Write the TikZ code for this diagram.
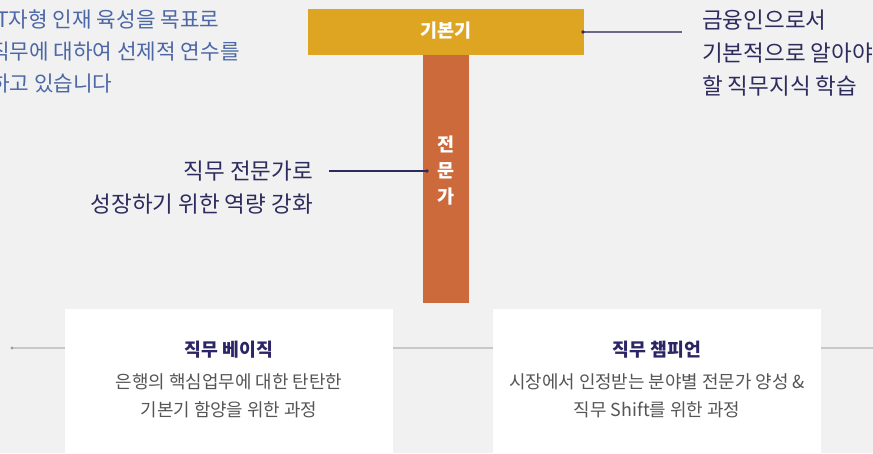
\documentclass[tikz,border=0pt]{standalone}
\usepackage{fontspec}
\setmainfont{Noto Sans CJK KR}
\definecolor{bgc}{HTML}{F1F1F1}
\definecolor{goldc}{HTML}{DEA522}
\definecolor{orangec}{HTML}{CD6A3B}
\definecolor{navyc}{HTML}{2E2C5E}
\definecolor{bluec}{HTML}{4B67A6}
\definecolor{grayc}{HTML}{555555}
\definecolor{linegray}{HTML}{C8C8C8}
\definecolor{titlec}{HTML}{2B2465}
\definecolor{lightnavy}{HTML}{6A6888}
\tikzset{
  bartext/.style={text=white, inner sep=0pt, font=\fontsize{18.5}{26}\bfseries\selectfont},
  sidetext/.style={text=navyc, inner sep=0pt, font=\fontsize{22.5}{33}\selectfont},
  bluetext/.style={text=bluec, inner sep=0pt, font=\fontsize{21.3}{32}\selectfont},
  boxtitle/.style={text=titlec, inner sep=0pt, font=\fontsize{18.3}{20}\bfseries\selectfont},
  boxbody/.style={text=grayc, inner sep=0pt, align=center, font=\fontsize{17.9}{28}\selectfont},
  whitebox/.style={fill=white, draw=none, minimum width=328pt, minimum height=160pt, inner sep=0pt},
  conn/.style={draw=navyc, line width=1.2pt},
  connlight/.style={draw=lightnavy, line width=1.2pt},
  grayline/.style={draw=linegray, line width=1.3pt},
}
\begin{document}
\begin{tikzpicture}[x=1pt,y=-1pt]
\useasboundingbox (0,0) rectangle (873,453);
\fill[bgc] (0,0) rectangle (873,453);
\clip (0,0) rectangle (873,453);

% bottom gray line
\coordinate (bl) at (12,348);
\coordinate (br) at (873,348);
\draw[grayline] (bl) -- (br);
\fill[linegray!80!black] (bl) circle (1.6pt);

% white boxes
\node[whitebox, anchor=north west] (basicbox) at (65,309) {};
\node[whitebox, anchor=north west] (champbox) at (493,309) {};
\node[boxtitle] (basict) at (229,350) {직무 베이직};
\node[boxbody] (basicb) at (229,396) {은행의 핵심업무에 대한 탄탄한\\기본기 함양을 위한 과정};
\node[boxtitle] (champt) at (657,350) {직무 챔피언};
\node[boxbody] (champb) at (657,396) {시장에서 인정받는 분야별 전문가 양성 \&\\직무 Shift를 위한 과정};

% T bars
\node[fill=goldc, minimum width=276pt, minimum height=46pt, inner sep=0pt] (gold) at (446,32) {};
\node[bartext] (goldt) at (446,31) {기본기};
\node[fill=orangec, minimum width=46pt, minimum height=248pt, inner sep=0pt, anchor=north] (orange) at (446,55) {};
\node[bartext, align=center] (oranget) at (446,171) {전\\문\\가};

% right annotation
\node[sidetext, anchor=west, align=left] (rtext) at (702,53) {금융인으로서\\기본적으로 알아야\\할 직무지식 학습};
\coordinate (rdot) at (583,32);
\coordinate (rend) at (682,32);
\draw[connlight] (rdot) -- (rend);
\fill[navyc] (rdot) circle (1.8pt);

% middle annotation
\node[sidetext, anchor=east, align=right] (mtext) at (313,188) {직무 전문가로\\성장하기 위한 역량 강화};
\coordinate (mstart) at (329,171);
\coordinate (mdot) at (427,171);
\draw[conn] (mstart) -- (mdot);
\fill[navyc] (mdot) circle (1.8pt);

% top-left text (cut at left edge)
\node[bluetext, anchor=west, align=left] (ltext) at (-10,51) {\hspace*{6pt}T자형 인재 육성을 목표로\\직무에 대하여 선제적 연수를\\하고 있습니다};
\end{tikzpicture}
\end{document}
